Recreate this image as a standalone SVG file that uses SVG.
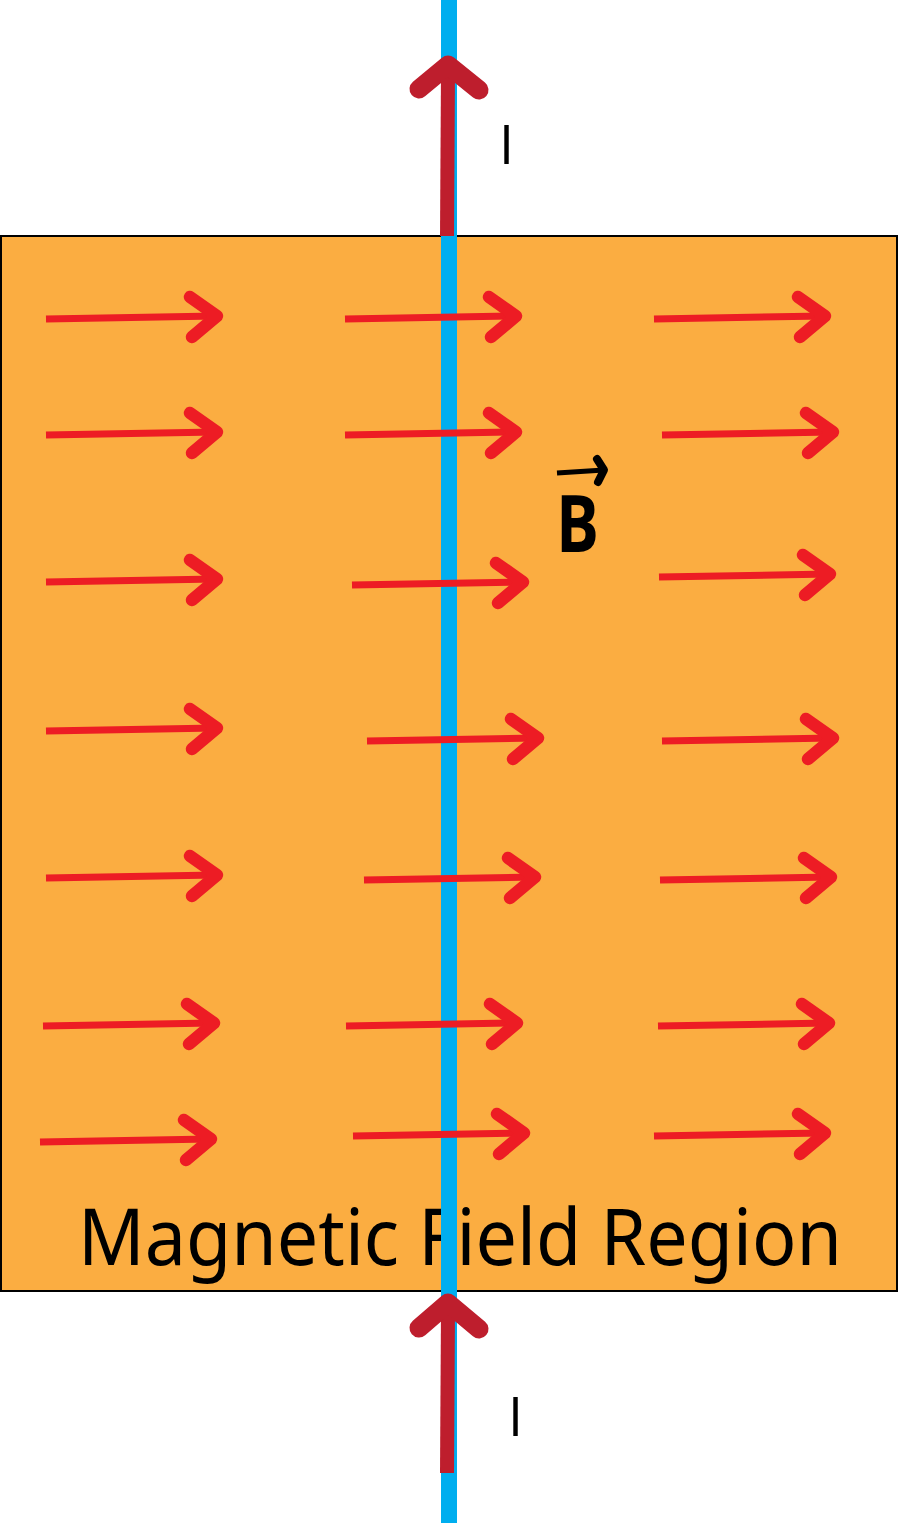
<svg xmlns="http://www.w3.org/2000/svg" xmlns:xlink="http://www.w3.org/1999/xlink" width="899" height="1524" viewBox="0 0 899 1524">
<style>
.fa{fill:none;stroke:#ED1C24;stroke-linecap:round;stroke-linejoin:round}
.cur{fill:none;stroke:#BE1E2D;stroke-linejoin:round}
.lbl{font-family:"Noto Sans","Open Sans",sans-serif;fill:#000}
.il{font-family:"Open Sans","Liberation Sans",sans-serif;fill:#000}
</style>
<defs>
<g id="farrow">
<path class="fa" d="M0 0 L170 -3" stroke-width="7" style="stroke-linecap:butt"/>
<path class="fa" d="M144 -22 L171 -3 L146 18" stroke-width="12.5"/>
</g>
</defs>
<rect width="899" height="1524" fill="#fff"/>
<g id="region">
<rect x="1" y="236" width="896" height="1055" fill="#FBAD41" stroke="#000" stroke-width="2"/>
<text class="lbl" x="78" y="1265" font-size="78" textLength="764" lengthAdjust="spacingAndGlyphs">Magnetic Field Region</text>
</g>
<g id="wire">
<rect x="441" y="0" width="16" height="1523" fill="#00AEEF"/>
</g>
<g id="field">
<use xlink:href="#farrow" x="46" y="319"/>
<use xlink:href="#farrow" x="345" y="319"/>
<use xlink:href="#farrow" x="654" y="319"/>
<use xlink:href="#farrow" x="46" y="435"/>
<use xlink:href="#farrow" x="345" y="435"/>
<use xlink:href="#farrow" x="662" y="435"/>
<use xlink:href="#farrow" x="46" y="582"/>
<use xlink:href="#farrow" x="352" y="585"/>
<use xlink:href="#farrow" x="659" y="577"/>
<use xlink:href="#farrow" x="46" y="731"/>
<use xlink:href="#farrow" x="367" y="741"/>
<use xlink:href="#farrow" x="662" y="741"/>
<use xlink:href="#farrow" x="46" y="878"/>
<use xlink:href="#farrow" x="364" y="880"/>
<use xlink:href="#farrow" x="660" y="880"/>
<use xlink:href="#farrow" x="43" y="1026"/>
<use xlink:href="#farrow" x="346" y="1026"/>
<use xlink:href="#farrow" x="658" y="1026"/>
<use xlink:href="#farrow" x="40" y="1142"/>
<use xlink:href="#farrow" x="353" y="1136"/>
<use xlink:href="#farrow" x="654" y="1136"/>
</g>
<g id="current-top">
<path class="cur" d="M447 236 L448 70" stroke-width="14"/>
<path class="cur" d="M419 89 L448 65 L479 90" stroke-width="19" stroke-linecap="round"/>
<text class="il" x="499" y="164" font-size="54">I</text>
</g>
<g id="current-bottom">
<path class="cur" d="M447 1473 L448 1308" stroke-width="14"/>
<path class="cur" d="M419 1328 L448 1303 L479 1329" stroke-width="19" stroke-linecap="round"/>
<text class="il" x="508" y="1436" font-size="54">I</text>
</g>
<g id="B-label">
<text x="556" y="552" font-family="'Open Sans','Noto Sans',sans-serif" font-weight="bold" font-size="78" textLength="43" lengthAdjust="spacingAndGlyphs">B</text>
<path d="M557 473 L604 470" stroke="#000" stroke-width="5" fill="none"/>
<path d="M597 459 L604 470 L598 482" stroke="#000" stroke-width="8" fill="none" stroke-linecap="round" stroke-linejoin="round"/>
</g>
</svg>
